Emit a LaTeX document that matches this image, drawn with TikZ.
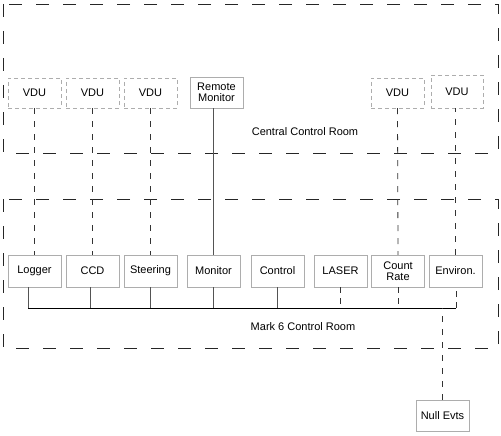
\documentclass[tikz,border=0pt]{standalone}
\usepackage{fontspec}
\setmainfont{Liberation Sans}
\definecolor{boxgray}{rgb}{0.68,0.68,0.68}
\definecolor{linegray}{rgb}{0.33,0.33,0.33}

\begin{document}
\begin{tikzpicture}[
	x=1pt, y=-1pt,
	font=\fontsize{11}{11.5}\selectfont
]
\tikzset{
    unit/.style = {draw=boxgray, align=center, minimum width=53pt, minimum height=32pt, inner sep=1pt},
    vdu/.style = {unit, dash pattern=on 4pt off 3pt},
    room/.style = {draw=black!85, line width=0.9pt, dash pattern=on 13pt off 14pt},
    solidlink/.style = {draw=linegray, line width=0.8pt},
    dashlink/.style = {draw=black!80, line width=0.8pt, dash pattern=on 6pt off 7pt},
}
\useasboundingbox (0,0) rectangle (501,436);

\draw[room] (3,4) rectangle (498,153);
\draw[room] (3,199) rectangle (498,348);
\node (central) at (305,132) {Central Control Room};
\node (mark6) at (303,327) {Mark 6 Control Room};

\node (vduA) [vdu, minimum height=30pt] at (34.5,93) {VDU};
\node (vduB) [vdu, minimum height=30pt] at (92.5,93) {VDU};
\node (vduC) [vdu, minimum height=30pt] at (150.5,93) {VDU};
\node (remote) [unit, minimum height=31pt] at (216.5,92.5) {Remote\\Monitor};
\node (vduD) [vdu, minimum height=30pt] at (397.5,93) {VDU};
\node (vduE) [vdu, minimum width=52pt, minimum height=33pt] at (457,91.5) {VDU};

\node (logger) [unit] at (34.5,271) {Logger};
\node (ccd) [unit] at (92.5,271) {CCD};
\node (steering) [unit] at (150.5,271) {Steering};
\node (monitor) [unit] at (213.5,271) {Monitor};
\node (control) [unit] at (277.5,271) {Control};
\node (laser) [unit] at (340.5,271) {LASER};
\node (count) [unit] at (398,271) {Count\\Rate};
\node (environ) [unit] at (455.5,271) {Environ.};
\node (null) [unit, minimum height=31pt] at (442.5,415.5) {Null Evts};

\draw[dashlink] (vduA.south) -- (logger.north);
\draw[dashlink] (vduB.south) -- (ccd.north);
\draw[dashlink] (vduC.south) -- (steering.north);
\draw[solidlink] (monitor.north) -- (monitor.north |- remote.south);
\draw[dashlink] (vduD.south) -- (count.north);
\draw[dashlink] (environ.north) -- (environ.north |- vduE.south);

\coordinate (busL) at (28,308);
\coordinate (busR) at (456,308);
\coordinate (ccdDrop) at (90,308);
\draw[solidlink] (busL) -- (busL |- logger.south);
\draw[solidlink] (ccdDrop) -- (ccdDrop |- ccd.south);
\draw[solidlink] (steering.south) -- (steering.south |- busL);
\draw[solidlink] (monitor.south) -- (monitor.south |- busL);
\draw[solidlink] (control.south) -- (control.south |- busL);
\draw[dashlink, dash pattern=on 6pt off 5pt] (laser.south) -- (laser.south |- busL);
\draw[dashlink, dash pattern=on 6pt off 5pt] (count.south) -- (count.south |- busL);
\draw[dashlink, dash pattern=on 6pt off 5pt] (busR) -- (busR |- environ.south);
\draw[black, line width=0.9pt] (busL) -- (busR);
\draw[dashlink] (null.north) -- (null.north |- busL);
\end{tikzpicture}
\end{document}
